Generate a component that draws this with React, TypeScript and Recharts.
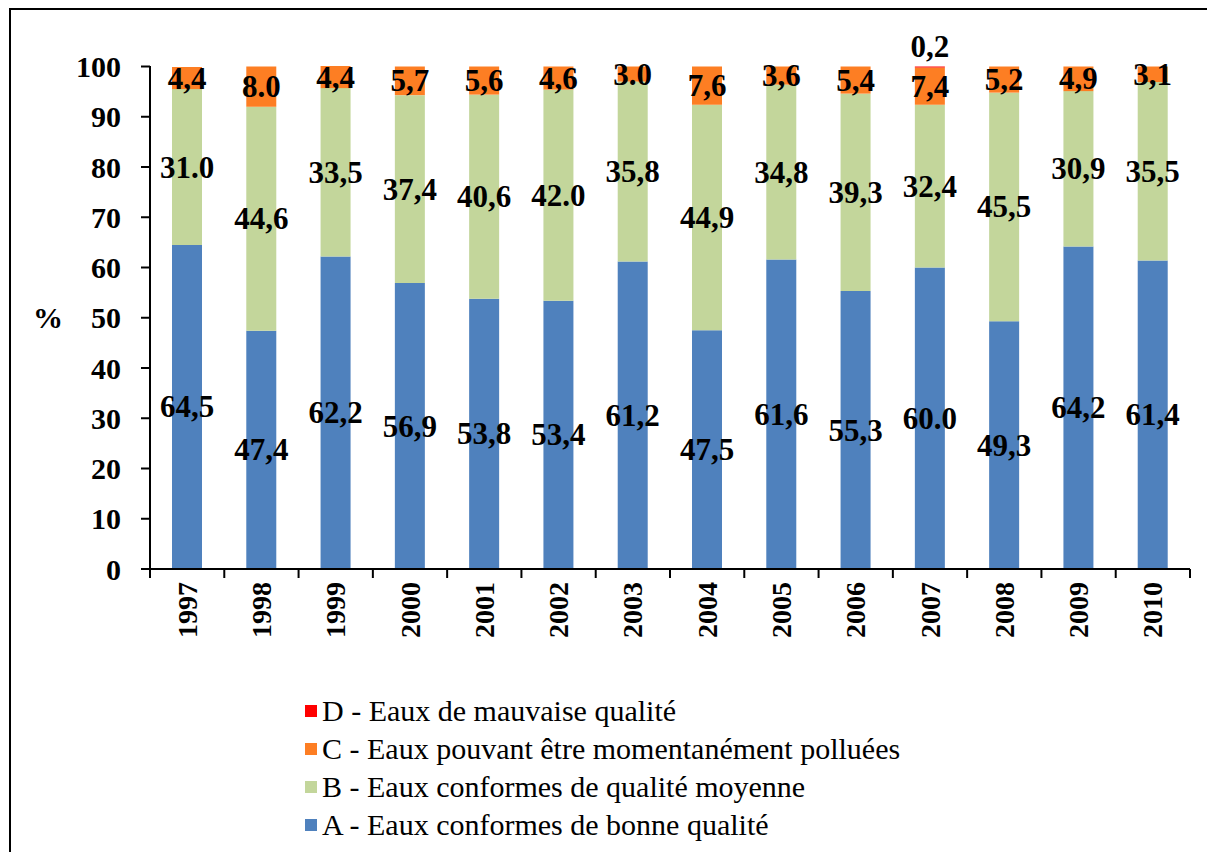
import { Bar, BarChart, LabelList, XAxis, YAxis } from 'recharts';

const years = ['1997', '1998', '1999', '2000', '2001', '2002', '2003', '2004', '2005', '2006', '2007', '2008', '2009', '2010'];

// A - bonne qualité
const seriesA = [64.5, 47.4, 62.2, 56.9, 53.8, 53.4, 61.2, 47.5, 61.6, 55.3, 60.0, 49.3, 64.2, 61.4];
const labelsA = ['64,5', '47,4', '62,2', '56,9', '53,8', '53,4', '61,2', '47,5', '61,6', '55,3', '60.0', '49,3', '64,2', '61,4'];

// B - qualité moyenne
const seriesB = [31.0, 44.6, 33.5, 37.4, 40.6, 42.0, 35.8, 44.9, 34.8, 39.3, 32.4, 45.5, 30.9, 35.5];
const labelsB = ['31.0', '44,6', '33,5', '37,4', '40,6', '42.0', '35,8', '44,9', '34,8', '39,3', '32,4', '45,5', '30,9', '35,5'];

// C - momentanément polluées
const seriesC = [4.4, 8.0, 4.4, 5.7, 5.6, 4.6, 3.0, 7.6, 3.6, 5.4, 7.4, 5.2, 4.9, 3.1];
const labelsC = ['4,4', '8.0', '4,4', '5,7', '5,6', '4,6', '3.0', '7,6', '3,6', '5,4', '7,4', '5,2', '4,9', '3,1'];

// D - mauvaise qualité
const seriesD = [0, 0, 0, 0, 0, 0, 0, 0, 0, 0, 0.2, 0, 0, 0];
const labelsD = ['', '', '', '', '', '', '', '', '', '', '0,2', '', '', ''];

const yTicks = [0, 10, 20, 30, 40, 50, 60, 70, 80, 90, 100];

const legendItems = [
  { name: 'D - Eaux de mauvaise qualité', color: '#FF0000' },
  { name: 'C - Eaux pouvant être momentanément polluées', color: '#FD7E23' },
  { name: 'B - Eaux conformes de qualité moyenne', color: '#C3D69B' },
  { name: 'A - Eaux conformes de bonne qualité', color: '#4F81BD' },
];

const data = years.map((year, i) => ({
  year,
  A: seriesA[i],
  B: seriesB[i],
  C: seriesC[i],
  D: seriesD[i],
  labelA: labelsA[i],
  labelB: labelsB[i],
  labelC: labelsC[i],
  labelD: labelsD[i],
}));

const FONT = "'Liberation Serif', Tinos, 'Times New Roman', 'DejaVu Serif', serif";

function CenterLabel(props: any) {
  const { x, y, width, height, value } = props;
  if (!value) return null;
  return (
    <text
      x={Number(x) + Number(width) / 2}
      y={Number(y) + Number(height) / 2}
      textAnchor="middle"
      dominantBaseline="central"
      style={{ fontFamily: FONT }}
      fontWeight="bold"
      fontSize={31}
      fill="#000"
    >
      {value}
    </text>
  );
}

function TopLabel(props: any) {
  const { x, y, width, value } = props;
  if (!value) return null;
  return (
    <text
      x={Number(x) + Number(width) / 2}
      y={Number(y) - 10}
      textAnchor="middle"
      style={{ fontFamily: FONT }}
      fontWeight="bold"
      fontSize={31}
      fill="#000"
    >
      {value}
    </text>
  );
}

function YearTick(props: any) {
  const { x, y, payload, width, visibleTicksCount } = props;
  const step = width / visibleTicksCount;
  const last = payload.index === visibleTicksCount - 1;
  return (
    <g>
      <line x1={x - step / 2} y1={y} x2={x - step / 2} y2={y + 9} stroke="#000" strokeWidth={2} />
      {last && <line x1={x + step / 2} y1={y} x2={x + step / 2} y2={y + 9} stroke="#000" strokeWidth={2} />}
      <text
        transform={`translate(${x},${y + 13}) rotate(-90)`}
        textAnchor="end"
        dominantBaseline="central"
        style={{ fontFamily: FONT }}
        fontWeight="bold"
        fontSize={28}
        fill="#000"
      >
        {payload.value}
      </text>
    </g>
  );
}

export default function App() {
  return (
    <div style={{ position: 'relative', width: 1207, height: 844, background: '#fff', overflow: 'hidden', fontFamily: FONT }}>
      <div
        style={{
          position: 'absolute',
          left: 1,
          top: 0,
          width: 1300,
          height: 900,
          borderTop: '2px solid #000',
          borderLeft: '2px solid #000',
        }}
      />
      <BarChart
        width={1207}
        height={700}
        data={data}
        margin={{ top: 58, right: 25, bottom: 49, left: 0 }}
        barSize={30}
        style={{ position: 'absolute', left: 0, top: 0 }}
      >
        <XAxis
          dataKey="year"
          height={90}
          axisLine={{ stroke: '#000', strokeWidth: 2 }}
          tickLine={false}
          tickSize={0}
          tickMargin={0}
          tick={<YearTick />}
          interval={0}
        />
        <YAxis
          width={142}
          domain={[0, 100]}
          ticks={yTicks}
          interval={0}
          axisLine={{ stroke: '#000', strokeWidth: 2 }}
          tickLine={{ stroke: '#000', strokeWidth: 2 }}
          tickSize={9}
          tickMargin={20}
          tick={{ fill: '#000', fontWeight: 'bold', fontSize: 30, style: { fontFamily: FONT } }}
          label={{ value: '%', position: 'insideLeft', offset: 25, fill: '#000', fontWeight: 'bold', fontSize: 30, style: { fontFamily: FONT } }}
        />
        <Bar dataKey="A" stackId="s" fill="#4F81BD" isAnimationActive={false}>
          <LabelList dataKey="labelA" content={<CenterLabel />} />
        </Bar>
        <Bar dataKey="B" stackId="s" fill="#C3D69B" isAnimationActive={false}>
          <LabelList dataKey="labelB" content={<CenterLabel />} />
        </Bar>
        <Bar dataKey="C" stackId="s" fill="#FD7E23" isAnimationActive={false}>
          <LabelList dataKey="labelC" content={<CenterLabel />} />
        </Bar>
        <Bar dataKey="D" stackId="s" fill="#FF0000" isAnimationActive={false}>
          <LabelList dataKey="labelD" content={<TopLabel />} />
        </Bar>
      </BarChart>
      <div
        style={{
          position: 'absolute',
          left: 297,
          top: 684,
          fontSize: 30,
          color: '#000',
          lineHeight: '38px',
        }}
      >
        {legendItems.map((item) => (
          <div key={item.name} style={{ display: 'flex', alignItems: 'center' }}>
            <span style={{ width: 12, height: 12, background: item.color, marginRight: 5, display: 'inline-block' }} />
            <span>{item.name}</span>
          </div>
        ))}
      </div>
    </div>
  );
}
